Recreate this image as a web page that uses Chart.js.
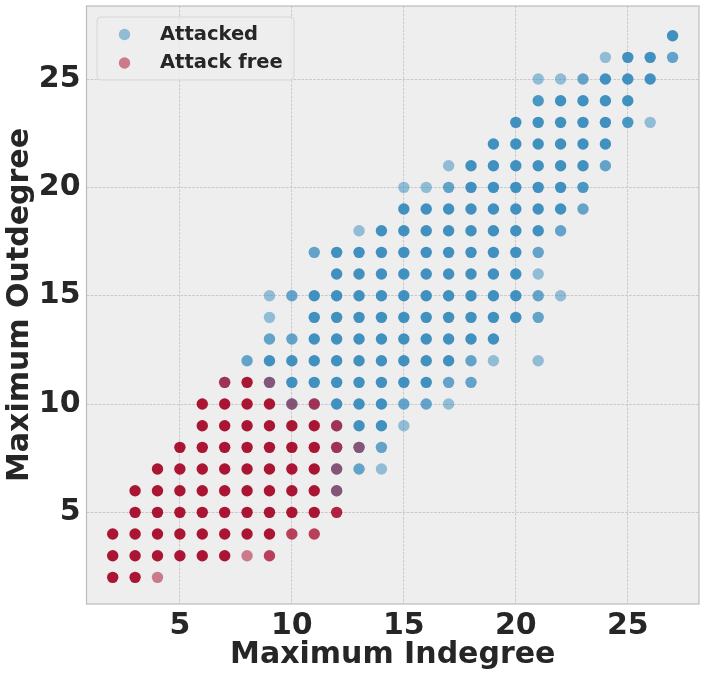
<!DOCTYPE html>
<html>
<head>
<meta charset="utf-8">
<script src="https://cdn.jsdelivr.net/npm/chart.js@4.4.1/dist/chart.umd.min.js"></script>
<style>
  html, body { margin: 0; padding: 0; background: #ffffff; }
  #wrap { width: 706px; height: 677px; position: relative; }
</style>
</head>
<body>
<div id="wrap"><canvas id="chartDegree"></canvas></div>
<script>
const seriesNames = ["Attacked", "Attack free"];
const xTicks = [5, 10, 15, 20, 25];
const yTicks = [5, 10, 15, 20, 25];

// [max indegree, max outdegree, number of overlapping graphs at that spot]
const attacked = [
  [12, 6, 2],
  [12, 7, 2], [13, 7, 2], [14, 7, 1],
  [12, 8, 1], [13, 8, 2], [14, 8, 2],
  [12, 9, 1], [13, 9, 4], [14, 9, 4], [15, 9, 1],
  [10, 10, 2], [11, 10, 1], [12, 10, 4], [13, 10, 4], [14, 10, 4], [15, 10, 2], [16, 10, 2], [17, 10, 1],
  [7, 11, 1], [9, 11, 2], [10, 11, 4], [11, 11, 4], [12, 11, 4], [13, 11, 4], [14, 11, 4], [15, 11, 4], [16, 11, 4], [17, 11, 2], [18, 11, 2],
  [8, 12, 2], [9, 12, 4], [10, 12, 4], [11, 12, 4], [12, 12, 4], [13, 12, 4], [14, 12, 4], [15, 12, 4], [16, 12, 4], [17, 12, 4], [18, 12, 2], [19, 12, 1], [21, 12, 1],
  [9, 13, 2], [10, 13, 2], [11, 13, 4], [12, 13, 4], [13, 13, 4], [14, 13, 4], [15, 13, 4], [16, 13, 4], [17, 13, 4], [18, 13, 4], [19, 13, 4],
  [9, 14, 1], [11, 14, 4], [12, 14, 4], [13, 14, 4], [14, 14, 4], [15, 14, 4], [16, 14, 4], [17, 14, 4], [18, 14, 4], [19, 14, 4], [20, 14, 4], [21, 14, 2],
  [9, 15, 1], [10, 15, 2], [11, 15, 4], [12, 15, 4], [13, 15, 4], [14, 15, 4], [15, 15, 4], [16, 15, 4], [17, 15, 4], [18, 15, 4], [19, 15, 4], [20, 15, 4], [21, 15, 2], [22, 15, 1],
  [12, 16, 4], [13, 16, 4], [14, 16, 4], [15, 16, 4], [16, 16, 4], [17, 16, 4], [18, 16, 4], [19, 16, 4], [20, 16, 4], [21, 16, 1],
  [11, 17, 2], [12, 17, 4], [13, 17, 4], [14, 17, 4], [15, 17, 4], [16, 17, 4], [17, 17, 4], [18, 17, 4], [19, 17, 4], [20, 17, 4], [21, 17, 2],
  [13, 18, 1], [14, 18, 4], [15, 18, 4], [16, 18, 4], [17, 18, 4], [18, 18, 4], [19, 18, 4], [20, 18, 4], [21, 18, 4], [22, 18, 2],
  [15, 19, 4], [16, 19, 4], [17, 19, 4], [18, 19, 4], [19, 19, 4], [20, 19, 4], [21, 19, 4], [22, 19, 4], [23, 19, 2],
  [15, 20, 1], [16, 20, 1], [17, 20, 2], [18, 20, 4], [19, 20, 4], [20, 20, 4], [21, 20, 4], [22, 20, 4], [23, 20, 3],
  [17, 21, 1], [18, 21, 4], [19, 21, 4], [20, 21, 4], [21, 21, 4], [22, 21, 4], [23, 21, 4], [24, 21, 2],
  [19, 22, 4], [20, 22, 4], [21, 22, 4], [22, 22, 4], [23, 22, 4], [24, 22, 4],
  [20, 23, 4], [21, 23, 4], [22, 23, 4], [23, 23, 4], [24, 23, 4], [25, 23, 3], [26, 23, 1],
  [21, 24, 3], [22, 24, 4], [23, 24, 4], [24, 24, 4], [25, 24, 4],
  [21, 25, 1], [22, 25, 1], [23, 25, 2], [24, 25, 4], [25, 25, 4], [26, 25, 4],
  [24, 26, 1], [25, 26, 4], [26, 26, 4], [27, 26, 2],
  [27, 27, 4]
];

const attackFree = [
  [2, 2, 4], [3, 2, 4], [4, 2, 1],
  [2, 3, 4], [3, 3, 4], [4, 3, 4], [5, 3, 4], [6, 3, 4], [7, 3, 4], [8, 3, 1], [9, 3, 2],
  [2, 4, 4], [3, 4, 4], [4, 4, 4], [5, 4, 4], [6, 4, 4], [7, 4, 4], [8, 4, 4], [9, 4, 4], [10, 4, 2], [11, 4, 2],
  [3, 5, 4], [4, 5, 4], [5, 5, 4], [6, 5, 4], [7, 5, 4], [8, 5, 4], [9, 5, 4], [10, 5, 4], [11, 5, 4], [12, 5, 3],
  [3, 6, 4], [4, 6, 4], [5, 6, 4], [6, 6, 4], [7, 6, 4], [8, 6, 4], [9, 6, 4], [10, 6, 4], [11, 6, 4], [12, 6, 1],
  [4, 7, 4], [5, 7, 4], [6, 7, 4], [7, 7, 4], [8, 7, 4], [9, 7, 4], [10, 7, 4], [11, 7, 4], [12, 7, 1],
  [5, 8, 4], [6, 8, 4], [7, 8, 4], [8, 8, 4], [9, 8, 4], [10, 8, 4], [11, 8, 4], [12, 8, 2], [13, 8, 1],
  [6, 9, 4], [7, 9, 4], [8, 9, 4], [9, 9, 4], [10, 9, 4], [11, 9, 4], [12, 9, 2],
  [6, 10, 4], [7, 10, 4], [8, 10, 4], [9, 10, 4], [10, 10, 1], [11, 10, 2],
  [7, 11, 2], [8, 11, 4], [9, 11, 1]
];

const colBlue = [52, 138, 189];
const colRed = [166, 6, 40];
const textCol = "#262626";

Chart.defaults.font.family = "'DejaVu Sans', sans-serif";
Chart.defaults.color = textCol;

// every single graph is drawn at alpha 0.5, so stacked ones get darker
function fillFor(rgb) {
  return (c) => {
    const n = c.raw && c.raw.n ? c.raw.n : 1;
    const a = 1 - Math.pow(0.5, n);
    return "rgba(" + rgb.join(",") + "," + a.toFixed(3) + ")";
  };
}

const toPts = (arr) => arr.map(p => ({ x: p[0], y: p[1], n: p[2] }));

const plotFrame = {
  id: "plotFrame",
  beforeDraw(chart) {
    const { ctx, chartArea: a } = chart;
    ctx.save();
    ctx.fillStyle = "#eeeeee";
    ctx.fillRect(a.left, a.top, a.right - a.left, a.bottom - a.top);
    ctx.restore();
  },
  afterDraw(chart) {
    const { ctx, chartArea: a } = chart;
    ctx.save();
    ctx.strokeStyle = "#bcbcbc";
    ctx.lineWidth = 1.2;
    ctx.strokeRect(a.left, a.top, a.right - a.left, a.bottom - a.top);

    // legend box, top left inside the axes
    const bx = 97, by = 17, bw = 197, bh = 63, r = 4;
    ctx.beginPath();
    ctx.moveTo(bx + r, by);
    ctx.arcTo(bx + bw, by, bx + bw, by + bh, r);
    ctx.arcTo(bx + bw, by + bh, bx, by + bh, r);
    ctx.arcTo(bx, by + bh, bx, by, r);
    ctx.arcTo(bx, by, bx + bw, by, r);
    ctx.closePath();
    ctx.fillStyle = "rgba(238,238,238,0.8)";
    ctx.fill();
    ctx.strokeStyle = "#d6d6d6";
    ctx.lineWidth = 1;
    ctx.stroke();

    const rows = [[seriesNames[0], colBlue, 34.5], [seriesNames[1], colRed, 63]];
    ctx.font = "bold 19.5px 'DejaVu Sans'";
    ctx.textBaseline = "middle";
    ctx.textAlign = "left";
    rows.forEach(([label, rgb, yy]) => {
      ctx.beginPath();
      ctx.arc(124.5, yy, 5.7, 0, Math.PI * 2);
      ctx.fillStyle = "rgba(" + rgb.join(",") + ",0.5)";
      ctx.fill();
      ctx.fillStyle = textCol;
      ctx.fillText(label, 160, yy);
    });
    ctx.restore();
  }
};

const setTicks = (vals) => (scale) => {
  scale.ticks = vals.map(v => ({ value: v }));
};

new Chart(document.getElementById("chartDegree"), {
  type: "scatter",
  data: {
    datasets: [
      {
        label: seriesNames[1],
        data: toPts(attackFree),
        backgroundColor: fillFor(colRed),
        pointRadius: 5.7,
        pointBorderWidth: 0,
        borderWidth: 0,
        order: 0
      },
      {
        label: seriesNames[0],
        data: toPts(attacked),
        backgroundColor: fillFor(colBlue),
        pointRadius: 5.7,
        pointBorderWidth: 0,
        borderWidth: 0,
        order: 1
      }
    ]
  },
  options: {
    responsive: true,
    maintainAspectRatio: false,
    animation: false,
    events: [],
    layout: { padding: { top: 6, right: 7, left: 0, bottom: 0 } },
    plugins: {
      legend: { display: false },
      tooltip: { enabled: false }
    },
    scales: {
      x: {
        type: "linear",
        min: 0.83,
        max: 28.18,
        afterBuildTicks: setTicks(xTicks),
        afterFit: (s) => { s.height = 73; s.paddingLeft = 0; s.paddingRight = 0; },
        grid: { color: "#c9c9c9", lineWidth: 1, drawTicks: false },
        border: { display: false, dash: [2.6, 1.3] },
        ticks: { padding: 4, font: { size: 30, weight: "bold" }, color: textCol },
        title: {
          display: true,
          text: "Maximum Indegree",
          font: { size: 30, weight: "bold" },
          color: textCol,
          padding: { top: 0, bottom: 4 }
        }
      },
      y: {
        type: "linear",
        min: 0.77,
        max: 28.37,
        afterBuildTicks: setTicks(yTicks),
        afterFit: (s) => { s.width = 86.5; s.paddingTop = 0; s.paddingBottom = 0; },
        grid: { color: "#c9c9c9", lineWidth: 1, drawTicks: false },
        border: { display: false, dash: [2.6, 1.3] },
        ticks: { padding: 6, font: { size: 30, weight: "bold" }, color: textCol },
        title: {
          display: true,
          text: "Maximum Outdegree",
          font: { size: 30, weight: "bold" },
          color: textCol,
          padding: { top: 2, bottom: 0 }
        }
      }
    }
  },
  plugins: [plotFrame]
});
</script>
</body>
</html>
